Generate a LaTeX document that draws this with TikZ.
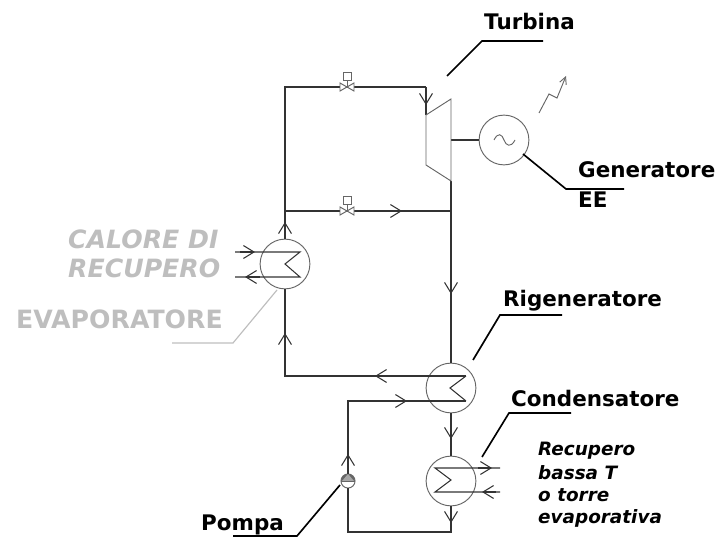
\documentclass[tikz,border=0pt]{standalone}
\usepackage{fontspec}
\setmainfont{DejaVu Sans}
\usepackage{xcolor}
\usetikzlibrary{arrows.meta}

\definecolor{labelgray}{RGB}{190,190,190}

\tikzset{
    pipe/.style={line width=0.9pt, draw=black!80},
    thinpart/.style={line width=0.8pt, draw=black!60},
    leader/.style={line width=1.4pt, draw=black},
    grayleader/.style={line width=1pt, draw=labelgray},
    exchanger/.style={circle, thinpart, fill=none, minimum size=42.5pt, inner sep=0pt},
    boldlabel/.style={anchor=base west, inner sep=0pt, font=\fontsize{18.3}{22}\selectfont\bfseries},
    graylabel/.style={anchor=base west, inner sep=0pt, text=labelgray, font=\fontsize{21.5}{26}\selectfont\bfseries},
    smalllabel/.style={anchor=base west, inner sep=0pt, font=\fontsize{15.7}{19}\selectfont\bfseries\itshape},
    valve/.pic={
        \draw[thinpart, fill=white] (-7,-4) -- (7,4) -- (7,-4) -- (-7,4) -- cycle;
        \draw[thinpart] (0,0) -- (0,-7);
        \draw[thinpart, fill=white] (-4,-7) rectangle (4,-15);
    }
}

\begin{document}
\begin{tikzpicture}[x=0.03cm, y=-0.03cm, >={Straight Barb[length=9pt, width=11pt]}]
    \useasboundingbox (0,0) rectangle (717,537);

    % Punti del circuito
    \coordinate (topleft) at (285,87);
    \coordinate (topright) at (426,87);
    \coordinate (inlet) at (426,115);
    \coordinate (outlet) at (451,181);
    \coordinate (shaft) at (451,140);
    \coordinate (bypassL) at (285,211);
    \coordinate (bypassR) at (451,211);
    \coordinate (valveA) at (347,87);
    \coordinate (valveB) at (347,211);
    \coordinate (regenL) at (285,376);
    \coordinate (pumpup) at (348,401);
    \coordinate (bottomL) at (348,532);
    \coordinate (bottomR) at (451,532);

    % Scambiatori, generatore, pompa
    \node[exchanger] (evap) at (285,264) {};
    \node[exchanger] (regen) at (451,388) {};
    \node[exchanger] (cond) at (451,481) {};
    \node[exchanger] (gen) at (504,140) {};
    \fill[black!60] (341,481) arc[start angle=180, end angle=360, radius=7];
    \node[circle, thinpart, minimum size=12pt, inner sep=0pt] (pump) at (348,481) {};

    % Circuito principale
    \draw[pipe] (evap) -- (bypassL);
    \draw[pipe] (bypassL) -- (topleft) -- (topright);
    \draw[pipe] (topright) -- (inlet);
    \draw[pipe] (bypassL) -- (bypassR);
    \draw[pipe] (outlet) -- (regen);
    \draw[pipe] (regen) -- (cond);
    \draw[pipe] (cond) -- (bottomR) -- (bottomL) -- (pump);
    \draw[pipe] (pump) -- (pumpup) -- (466,401);
    \draw[pipe] (466,376) -- (regenL) -- (evap);
    \draw[pipe] (shaft) -- (gen);

    % Frecce
    \draw[pipe, ->] (426,92) -- (426,105);
    \draw[pipe, ->] (385,211) -- (402,211);
    \draw[pipe, ->] (451,280) -- (451,294);
    \draw[pipe, ->] (285,235) -- (285,222);
    \draw[pipe, ->] (285,346) -- (285,333);
    \draw[pipe, ->] (395,376) -- (375,376);
    \draw[pipe, ->] (390,401) -- (407,401);
    \draw[pipe, ->] (451,425) -- (451,439);
    \draw[pipe, ->] (348,466) -- (348,454);
    \draw[pipe, ->] (451,510) -- (451,523);

    % Valvole
    \pic at (valveA) {valve};
    \pic at (valveB) {valve};

    % Turbina
    \draw[thinpart] (inlet) -- (451,99) -- (outlet) -- (426,165) -- cycle;

    % Tilde e fulmine
    \draw[thinpart] (494,140) .. controls (498,132) and (502,134) .. (504,140) .. controls (506,146) and (511,148) .. (515,140);
    \draw[thinpart, ->, >={Straight Barb[length=6pt, width=6pt]}] (539,113) -- (549,94) -- (557,98) -- (566,76);

    % Evaporatore
    \draw[pipe] (235,252) -- (300,252) -- (285,264) -- (300,277) -- (235,277);
    \draw[pipe, ->] (240,252) -- (255,252);
    \draw[pipe, ->] (260,277) -- (245,277);

    % Rigeneratore
    \draw[pipe] (466,376) -- (450,388) -- (466,401);

    % Condensatore
    \draw[pipe] (500,468) -- (435,468) -- (451,480) -- (435,492) -- (500,492);
    \draw[pipe, ->] (478,468) -- (492,468);
    \draw[pipe, ->] (496,492) -- (482,492);

    % Pompa
    \fill[black!35] (342,481) -- (348,474) -- (354,481) -- cycle;
    \draw[thinpart] (341,481) -- (355,481);

    % Linee di richiamo
    \draw[leader] (447,76) -- (482,41) -- (543,41);
    \draw[leader] (523,154) -- (566,189) -- (624,189);
    \draw[leader] (473,360) -- (500,315) -- (562,315);
    \draw[leader] (482,457) -- (509,413) -- (571,413);
    \draw[leader] (340,485) -- (297,536) -- (233,536);
    \draw[grayleader] (277,290) -- (233,343) -- (172,343);

    % Etichette
    \node[boldlabel] (lturbina) at (484,30) {Turbina};
    \node[boldlabel] (lgen) at (578,178) {Generatore};
    \node[boldlabel] (lee) at (578,208) {EE};
    \node[boldlabel] (lrigen) at (503,307) {Rigeneratore};
    \node[boldlabel] (lcond) at (511,406) {Condensatore};
    \node[boldlabel] (lpompa) at (201,530) {Pompa};
    \node[graylabel, font=\fontsize{21.5}{26}\selectfont\bfseries\itshape] (lcalore) at (68,249) {CALORE DI};
    \node[graylabel, font=\fontsize{21.5}{26}\selectfont\bfseries\itshape] (lrecup) at (68,278) {RECUPERO};
    \node[graylabel] (levap) at (16,328) {EVAPORATORE};
    \node[smalllabel] (lrec) at (538,455) {Recupero};
    \node[smalllabel] (lbassa) at (538,479) {bassa T};
    \node[smalllabel] (ltorre) at (538,501) {o torre};
    \node[smalllabel] (levapor) at (538,523) {evaporativa};
\end{tikzpicture}
\end{document}
